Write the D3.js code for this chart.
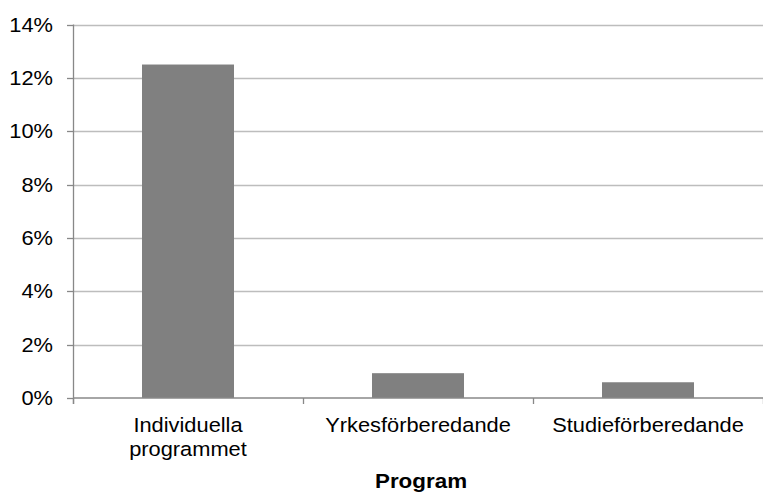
<!DOCTYPE html>
<html>
<head>
<meta charset="utf-8">
<script src="https://cdn.jsdelivr.net/npm/d3@7"></script>
<style>
html,body{margin:0;padding:0;background:#fff;}
text{font-family:"Liberation Sans",Arial,sans-serif;fill:#000;}
</style>
</head>
<body>
<div id="chart"></div>
<script>
// data
var categories=[["Individuella","programmet"],["Yrkesförberedande"],["Studieförberedande"]];
var values=[0.125,0.0093,0.0059];
var yTicks=[0,0.02,0.04,0.06,0.08,0.10,0.12,0.14];
var xTitle="Program";

var W=763,H=493;
var margin={top:24.5,right:0,bottom:95,left:73};
var sx=1.12; // text in the reference is a bit wide
var fs=19.5;

var svg=d3.select("#chart").append("svg").attr("width",W).attr("height",H);

var x=d3.scaleBand().domain(d3.range(categories.length)).range([margin.left,W-margin.right]).paddingInner(0.6).paddingOuter(0.3);
var y=d3.scaleLinear().domain([0,0.14]).range([H-margin.bottom,margin.top]);

// gridlines
svg.append("g").selectAll("line").data(yTicks.slice(1)).join("line")
	.attr("x1",margin.left).attr("x2",W-margin.right)
	.attr("y1",d=>Math.round(y(d))+0.5).attr("y2",d=>Math.round(y(d))+0.5)
	.attr("stroke","#bdbdbd").attr("stroke-width",1.3);

// bars
svg.append("g").selectAll("rect").data(values).join("rect")
	.attr("x",(d,i)=>x(i)).attr("width",x.bandwidth())
	.attr("y",d=>y(d)).attr("height",d=>y(0)-y(d))
	.attr("fill","#808080");

// y axis
var axisCol="#888";
svg.append("line").attr("x1",margin.left+0.5).attr("x2",margin.left+0.5)
	.attr("y1",margin.top).attr("y2",y(0)+6).attr("stroke",axisCol).attr("stroke-width",1.3);
svg.append("g").selectAll("line").data(yTicks).join("line")
	.attr("x1",margin.left-6).attr("x2",margin.left)
	.attr("y1",d=>Math.round(y(d))+0.5).attr("y2",d=>Math.round(y(d))+0.5)
	.attr("stroke",axisCol).attr("stroke-width",1.3);
var fmt=d3.format(".0%");
svg.append("g").selectAll("text").data(yTicks).join("text")
	.attr("transform",d=>"translate(53,"+(y(d)+7)+") scale("+sx+",1)")
	.attr("text-anchor","end").style("font-size",fs+"px")
	.text(d=>fmt(d));

// x axis
svg.append("line").attr("x1",margin.left).attr("x2",W-margin.right)
	.attr("y1",y(0)).attr("y2",y(0)).attr("stroke",axisCol).attr("stroke-width",1.5);
var bounds=d3.range(categories.length+1).map(i=>margin.left+i*(W-margin.right-margin.left)/categories.length);
svg.append("g").selectAll("line").data(bounds).join("line")
	.attr("x1",d=>Math.round(d)+0.5).attr("x2",d=>Math.round(d)+0.5)
	.attr("y1",y(0)).attr("y2",y(0)+6)
	.attr("stroke",axisCol).attr("stroke-width",1.3);

var lbl=svg.append("g").selectAll("text").data(categories).join("text")
	.attr("transform",(d,i)=>"translate("+(x(i)+x.bandwidth()/2)+","+432+") scale("+sx+",1)")
	.attr("text-anchor","middle").style("font-size",fs+"px");
lbl.selectAll("tspan").data(d=>d).join("tspan")
	.attr("x",0).attr("y",(d,i)=>i*24.5).text(d=>d);

// axis title
svg.append("text")
	.attr("transform","translate("+(margin.left+(W-margin.right-margin.left)/2+3)+",488) scale("+sx+",1)")
	.attr("text-anchor","middle").style("font-size","20px").style("font-weight","bold")
	.text(xTitle);
</script>
</body>
</html>
